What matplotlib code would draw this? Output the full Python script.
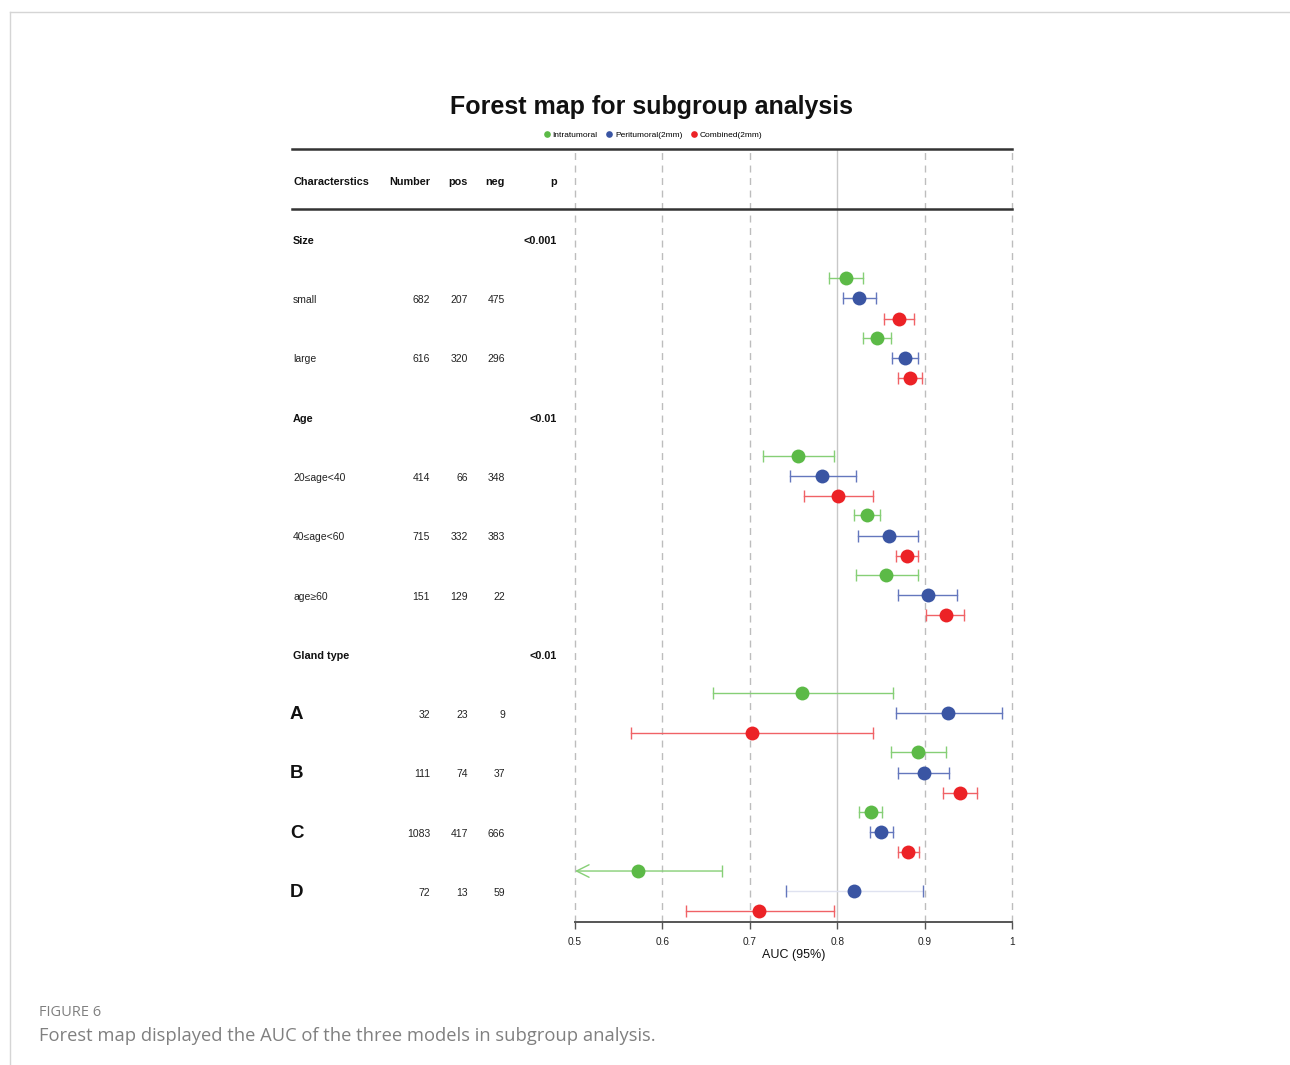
import matplotlib
matplotlib.use("Agg")
import matplotlib.pyplot as plt
from matplotlib.lines import Line2D
import numpy as np

plt.rcParams['font.family'] = ['Liberation Sans', 'DejaVu Sans']

# table data
groups = ["Size", "Age", "Gland type"]
group_p = ["<0.001", "<0.01", "<0.01"]
subgroups = [["small", "large"],
             ["20≤age<40", "40≤age<60", "age≥60"],
             ["A", "B", "C", "D"]]
number = [682, 616, 414, 715, 151, 32, 111, 1083, 72]
pos = [207, 320, 66, 332, 129, 23, 74, 417, 13]
neg = [475, 296, 348, 383, 22, 9, 37, 666, 59]

# AUC and 95% CI per model (same order as the subgroups)
models = ["Intratumoral", "Peritumoral(2mm)", "Combined(2mm)"]
auc_intra = [0.810, 0.846, 0.755, 0.834, 0.856, 0.760, 0.892, 0.839, 0.572]
lo_intra = [0.791, 0.829, 0.715, 0.819, 0.821, 0.658, 0.861, 0.825, 0.476]
hi_intra = [0.830, 0.862, 0.796, 0.849, 0.892, 0.864, 0.924, 0.851, 0.668]
auc_peri = [0.825, 0.878, 0.783, 0.859, 0.904, 0.927, 0.899, 0.850, 0.819]
lo_peri = [0.807, 0.863, 0.746, 0.824, 0.870, 0.867, 0.870, 0.837, 0.741]
hi_peri = [0.844, 0.892, 0.821, 0.893, 0.937, 0.989, 0.928, 0.864, 0.898]
auc_comb = [0.871, 0.883, 0.801, 0.880, 0.924, 0.702, 0.940, 0.881, 0.711]
lo_comb = [0.854, 0.869, 0.762, 0.867, 0.902, 0.564, 0.921, 0.869, 0.627]
hi_comb = [0.888, 0.897, 0.841, 0.893, 0.945, 0.841, 0.960, 0.894, 0.796]

ticks = [0.5, 0.6, 0.7, 0.8, 0.9, 1.0]
tick_labels = ["0.5", "0.6", "0.7", "0.8", "0.9", "1"]

dot_colors = ["#5cba47", "#3a55a3", "#ec2226"]
line_colors = ["#86cf76", "#6477bd", "#f06266"]

W, H = 1290, 1065
fig = plt.figure(figsize=(W / 100, H / 100), dpi=100)

# row layout
header_rows = []
sub_rows = []
r = 1
for g, subs in zip(groups, subgroups):
    header_rows.append(r)
    r += 1
    for s in subs:
        sub_rows.append(r)
        r += 1
sub_rows = np.array(sub_rows, dtype=float)
ylim = (12.52, -0.52)

top = 1 - 149 / H
bot = 1 - 922 / H
axt = fig.add_axes([292 / W, bot, (575 - 292) / W, top - bot])
axf = fig.add_axes([575 / W, bot, (1012 - 575) / W, top - bot])

# ---- table side
axt.set_xlim(292, 575)
axt.set_ylim(*ylim)
axt.axis("off")
dy = 0.03
hdr = dict(fontsize=7.8, fontweight="bold", va="center", color="#111")
axt.text(293, dy, "Characterstics", ha="left", **hdr)
axt.text(430, dy, "Number", ha="right", **hdr)
axt.text(468, dy, "pos", ha="right", **hdr)
axt.text(505, dy, "neg", ha="right", **hdr)
axt.text(557, dy, "p", ha="right", **hdr)
for g, p, y in zip(groups, group_p, header_rows):
    axt.text(293, y + dy, g, ha="left", **hdr)
    axt.text(557, y + dy, p, ha="right", **hdr)
labels = [s for subs in subgroups for s in subs]
for i, (lab, y) in enumerate(zip(labels, sub_rows)):
    if len(lab) == 1:
        axt.text(290, y + 0.02, lab, ha="left", va="center", fontsize=13.5,
                 fontweight="bold", color="#111")
    else:
        axt.text(293, y + dy, lab, ha="left", va="center", fontsize=7.5, color="#222")
    for xx, v in zip([430, 468, 505], [number[i], pos[i], neg[i]]):
        axt.text(xx, y + dy, str(v), ha="right", va="center", fontsize=7.5, color="#222")

# ---- forest side
axf.set_xlim(0.5, 1.0)
axf.set_ylim(*ylim)
for t in ticks:
    if t == 0.8:
        axf.axvline(t, color="#c8c8c8", lw=1, zorder=0)
    else:
        axf.axvline(t, color="#bdbdbd", lw=1, ls=(0, (5, 4)), zorder=0, clip_on=False)

offsets = [-0.34, 0.0, 0.34]
series = [(auc_intra, lo_intra, hi_intra),
          (auc_peri, lo_peri, hi_peri),
          (auc_comb, lo_comb, hi_comb)]
for j, (auc, lo, hi) in enumerate(series):
    auc, lo, hi = np.array(auc), np.array(lo), np.array(hi)
    y = sub_rows + offsets[j]
    for k in range(len(auc)):
        lc = line_colors[j]
        if j == 1 and k == len(auc) - 1:
            lc_line = "#dfe2f0"
        else:
            lc_line = lc
        if lo[k] < 0.5:
            axf.annotate("", xy=(0.5, y[k]), xytext=(hi[k], y[k]),
                         arrowprops=dict(arrowstyle="->,head_length=0.9,head_width=0.45",
                                         color=lc, lw=1, shrinkA=0, shrinkB=0))
            axf.plot([hi[k]], [y[k]], marker="|", ms=9, mew=1, color=lc)
        else:
            axf.plot([lo[k], hi[k]], [y[k], y[k]], color=lc_line, lw=1, zorder=2)
            axf.plot([lo[k], hi[k]], [y[k], y[k]], ls="none", marker="|",
                     ms=9, mew=1, color=lc, zorder=2)
    axf.plot(auc, y, "o", ms=10, color=dot_colors[j], mec="none", zorder=3)

for s in ["top", "right", "left"]:
    axf.spines[s].set_visible(False)
axf.spines["bottom"].set_color("#555")
axf.spines["bottom"].set_linewidth(1.4)
axf.set_yticks([])
axf.set_xticks(ticks)
axf.set_xticklabels(tick_labels)
axf.tick_params(axis="x", length=5, width=1, color="#555", labelsize=7.3,
                labelcolor="#222", pad=6)
axf.set_xlabel("AUC (95%)", fontsize=9, color="#111", labelpad=1)

# horizontal rules of the table
for ypx in [149, 209]:
    fig.add_artist(Line2D([292 / W, 1012 / W], [1 - ypx / H, 1 - ypx / H],
                          color="#333", lw=1.8))

# title and legend
fig.text(652 / W, 1 - 107 / H, "Forest map for subgroup analysis", ha="center",
         va="center", fontsize=18, fontweight="bold", color="#111")
handles = [Line2D([], [], ls="none", marker="o", ms=4.8, color=c, mec="none")
           for c in dot_colors]
fig.legend(handles, models, loc="center", bbox_to_anchor=(652 / W, 1 - 135 / H),
           ncol=3, frameon=False, fontsize=6, handletextpad=0.1,
           columnspacing=0.8, handlelength=1.2)

# page frame and caption
fig.add_artist(Line2D([10 / W, 1], [1 - 12 / H, 1 - 12 / H], color="#d5d5d5", lw=1))
fig.add_artist(Line2D([10 / W, 10 / W], [0, 1 - 12 / H], color="#d5d5d5", lw=1))
fig.text(39 / W, 1 - 1013 / H, "FIGURE 6", ha="left", va="center",
         fontsize=10.5, color="#808080", family=["Open Sans", "DejaVu Sans"])
fig.text(39 / W, 1 - 1036 / H,
         "Forest map displayed the AUC of the three models in subgroup analysis.",
         ha="left", va="center", fontsize=13.2, color="#808080",
         family=["Open Sans", "DejaVu Sans"])

fig.savefig("out.png", dpi=100)
